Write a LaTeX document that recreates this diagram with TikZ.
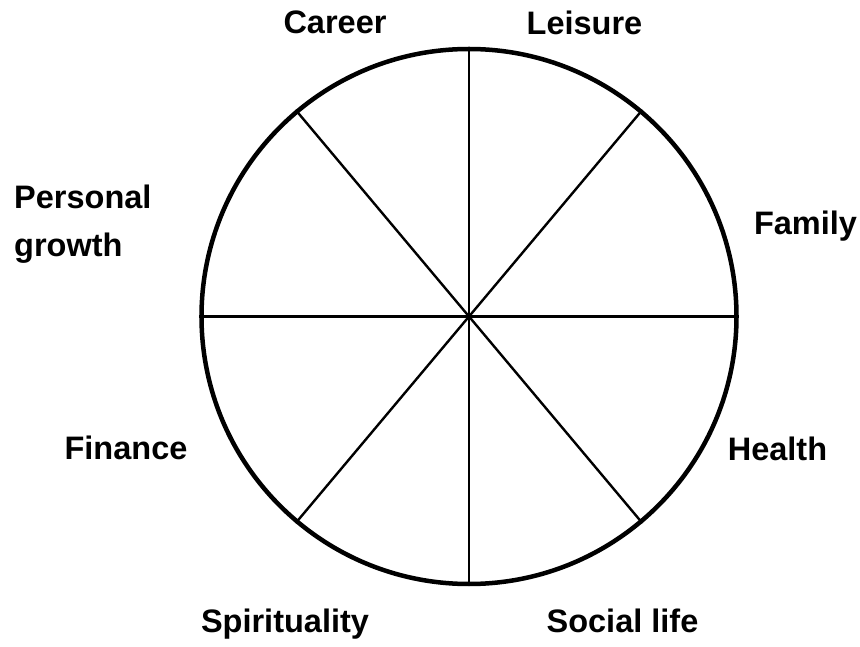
\documentclass[tikz,border=0pt]{standalone}
\usepackage{fontspec}
\setmainfont{Liberation Sans}
\usepackage{tikz}
\usetikzlibrary{shapes}
\tikzstyle{lbl}=[font=\fontsize{32.5}{48}\selectfont\bfseries,inner sep=0pt,anchor=base]
\tikzstyle{spoke}=[line width=2.4pt,black]

\begin{document}
\begin{tikzpicture}[x=1pt,y=1pt]
\useasboundingbox (0,0) rectangle (860,646);
\node[circle,draw=black,line width=4.5pt,minimum size=535pt,inner sep=0pt] (wheel) at (469,329.5) {};
\draw[spoke] (wheel.90) -- (wheel.270);
\draw[spoke] (wheel.0) -- (wheel.180);
\draw[spoke] (wheel.50) -- (wheel.230);
\draw[spoke] (wheel.130) -- (wheel.310);
% labels round the wheel
\node[lbl] (career) at (335,612) {Career};
\node[lbl] (leisure) at (584.5,611) {Leisure};
\node[lbl] (family) at (805.5,411) {Family};
\node[lbl,anchor=west,align=left] (personal) at (14,422) {Personal\\growth};
\node[lbl] (health) at (777.5,185) {Health};
\node[lbl] (finance) at (126,186) {Finance};
\node[lbl] (spirit) at (285,14) {Spirituality};
\node[lbl] (social) at (622.5,14) {Social life};
\end{tikzpicture}
\end{document}
